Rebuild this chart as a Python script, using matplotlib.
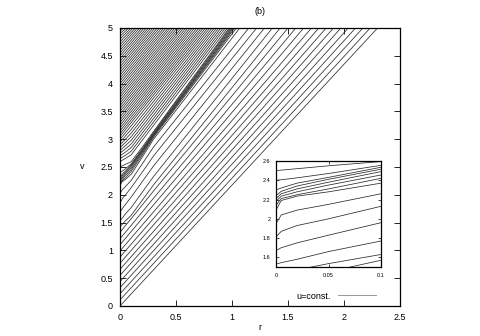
import matplotlib
matplotlib.use("Agg")
import matplotlib.pyplot as plt
from matplotlib.ticker import FuncFormatter
from matplotlib.lines import Line2D

plt.rcParams['font.family'] = ['Liberation Sans', 'DejaVu Sans']

# ---- data: null lines u = const in the (r, v) plane ----
# straight lines starting on r=0 at v0 and leaving through the top (v=5) at r_end
lower_v0 = [0.00, 0.11, 0.22, 0.33, 0.44, 0.55, 0.66, 0.77, 0.88, 0.99]
lower_r_end = [2.300, 2.234, 2.169, 2.103, 2.038, 1.972, 1.906, 1.841, 1.775, 1.710]

# curved lines: v at r = 0, 0.005, 0.02, 0.05, 0.1, 0.2, 0.3 and the r where v = 5
curved_r_knots = [0.0, 0.005, 0.02, 0.05, 0.1, 0.2, 0.3]
curved_v0 =      [2.50, 2.40, 2.30, 2.24, 2.21, 2.18, 2.14, 2.09, 1.95, 1.81, 1.67, 1.53, 1.43, 1.32, 1.21, 1.10]
curved_v_r0005 = [2.505, 2.405, 2.32, 2.285, 2.26, 2.235, 2.21, 2.19, 2.04, 1.87, 1.70, 1.545, 1.44, 1.335, 1.222, 1.112]
curved_v_r002 =  [2.52, 2.425, 2.37, 2.34, 2.31, 2.28, 2.25, 2.235, 2.09, 1.93, 1.75, 1.58, 1.47, 1.375, 1.26, 1.148]
curved_v_r005 =  [2.55, 2.47, 2.43, 2.41, 2.38, 2.35, 2.31, 2.28, 2.15, 2.00, 1.83, 1.66, 1.535, 1.45, 1.33, 1.22]
curved_v_r01 =   [2.594, 2.555, 2.535, 2.515, 2.49, 2.455, 2.42, 2.37, 2.26, 2.13, 1.96, 1.77, 1.63, 1.57, 1.45, 1.34]
curved_v_r02 =   [2.86, 2.83, 2.81, 2.795, 2.775, 2.75, 2.72, 2.68, 2.56, 2.41, 2.24, 2.05, 1.905, 1.82, 1.695, 1.58]
curved_v_r03 =   [3.14, 3.12, 3.10, 3.085, 3.07, 3.055, 3.035, 3.00, 2.86, 2.70, 2.52, 2.33, 2.18, 2.07, 1.94, 1.82]
curved_r_end =   [0.975, 0.985, 0.995, 1.005, 1.015, 1.025, 1.040, 1.070, 1.150, 1.220, 1.290, 1.360, 1.430, 1.500, 1.570, 1.640]

# lines above the bundle: start on r=0 at v0, v at r=0.05 and 0.1 (None: straight),
# leave the top at r_end
upper_v0 = [2.60, 2.65, 2.70, 2.75, 2.80, 2.85, 2.90, 2.95, 3.00, 3.05,
            3.10, 3.15, 3.20, 3.25, 3.30, 3.35, 3.40, 3.45, 3.50, 3.55,
            3.60, 3.65, 3.70, 3.75, 3.80, 3.85, 3.90, 3.95, 4.00, 4.05,
            4.10, 4.15, 4.20, 4.25, 4.30, 4.35, 4.40, 4.45, 4.50, 4.55,
            4.60, 4.65, 4.70, 4.75, 4.80, 4.85, 4.90, 4.95]
upper_v_r005 = [2.655, 2.712, 2.77, 2.828, 2.886, 2.944, 3.002, 3.06, 3.118] + [None] * 39
upper_v_r01 = [2.72, 2.785, 2.85, 2.915, 2.98, 3.045, 3.11, 3.175, 3.24] + [None] * 39
upper_r_end = [0.960, 0.940, 0.921, 0.901, 0.882, 0.862, 0.842, 0.823, 0.803, 0.784,
               0.764, 0.744, 0.725, 0.705, 0.686, 0.666, 0.646, 0.627, 0.607, 0.588,
               0.568, 0.548, 0.529, 0.509, 0.490, 0.470, 0.450, 0.431, 0.411, 0.392,
               0.372, 0.352, 0.333, 0.313, 0.294, 0.274, 0.254, 0.235, 0.215, 0.196,
               0.176, 0.156, 0.137, 0.117, 0.098, 0.078, 0.058, 0.039]

V_TOP = 5.0
main_xticks = [0, 0.5, 1, 1.5, 2, 2.5]
main_yticks = [0, 0.5, 1, 1.5, 2, 2.5, 3, 3.5, 4, 4.5, 5]
inset_xticks = [0, 0.05, 0.1]
inset_yticks = [1.6, 1.8, 2.0, 2.2, 2.4, 2.6]

# ---- build polylines ----
curves = []
for v0, re in zip(lower_v0, lower_r_end):
    curves.append(([0.0, re], [v0, V_TOP]))
for i, v0 in enumerate(curved_v0):
    rs = list(curved_r_knots) + [curved_r_end[i]]
    vs = [v0, curved_v_r0005[i], curved_v_r002[i], curved_v_r005[i],
          curved_v_r01[i], curved_v_r02[i], curved_v_r03[i], V_TOP]
    curves.append((rs, vs))
for v0, va, vm, re in zip(upper_v0, upper_v_r005, upper_v_r01, upper_r_end):
    if vm is None:
        curves.append(([0.0, re], [v0, V_TOP]))
    else:
        curves.append(([0.0, 0.05, 0.1, re], [v0, va, vm, V_TOP]))

LC = '#2a2a2a'
LW = 0.55
fmt = FuncFormatter(lambda x, p: '%g' % round(x, 3))

fig = plt.figure(figsize=(4.8, 3.36), dpi=100)
ax = fig.add_axes([0.25, 0.0893, 0.5833, 0.8274])
for rs, vs in curves:
    ax.plot(rs, vs, color=LC, lw=LW, solid_capstyle='butt')
ax.set_xlim(0, 2.5)
ax.set_ylim(0, 5)
ax.set_xticks(main_xticks)
ax.set_yticks(main_yticks)
ax.xaxis.set_major_formatter(fmt)
ax.yaxis.set_major_formatter(fmt)
ax.tick_params(direction='in', top=True, right=True, length=4, width=0.6,
               labelsize=6.5, pad=5)
for s in ax.spines.values():
    s.set_linewidth(0.9)
ax.set_xlabel('r', fontsize=6.5, labelpad=1)
ax.set_ylabel('v', fontsize=6.5, rotation=0, labelpad=13, va='center')
ax.set_title('(b)', fontsize=6.5, pad=10)

handle = Line2D([], [], color='#9a9a9a', lw=0.7)
ax.legend([handle], ['u=const.'], loc='lower right', bbox_to_anchor=(0.935, 0.0),
          frameon=False, markerfirst=False, fontsize=6.5, handlelength=4.3,
          borderaxespad=0.2, handletextpad=0.8)

# ---- inset ----
axi = fig.add_axes([0.575, 0.2054, 0.219, 0.3155])
for rs, vs in curves:
    axi.plot(rs, vs, color=LC, lw=LW)
axi.set_xlim(0, 0.1)
axi.set_ylim(1.5, 2.6)
axi.set_xticks(inset_xticks)
axi.set_yticks(inset_yticks)
axi.xaxis.set_major_formatter(fmt)
axi.yaxis.set_major_formatter(fmt)
axi.tick_params(direction='in', top=True, right=True, length=2.5, width=0.5,
                labelsize=4, pad=4)
for s in axi.spines.values():
    s.set_linewidth(0.9)

fig.savefig('out.png', dpi=100)
